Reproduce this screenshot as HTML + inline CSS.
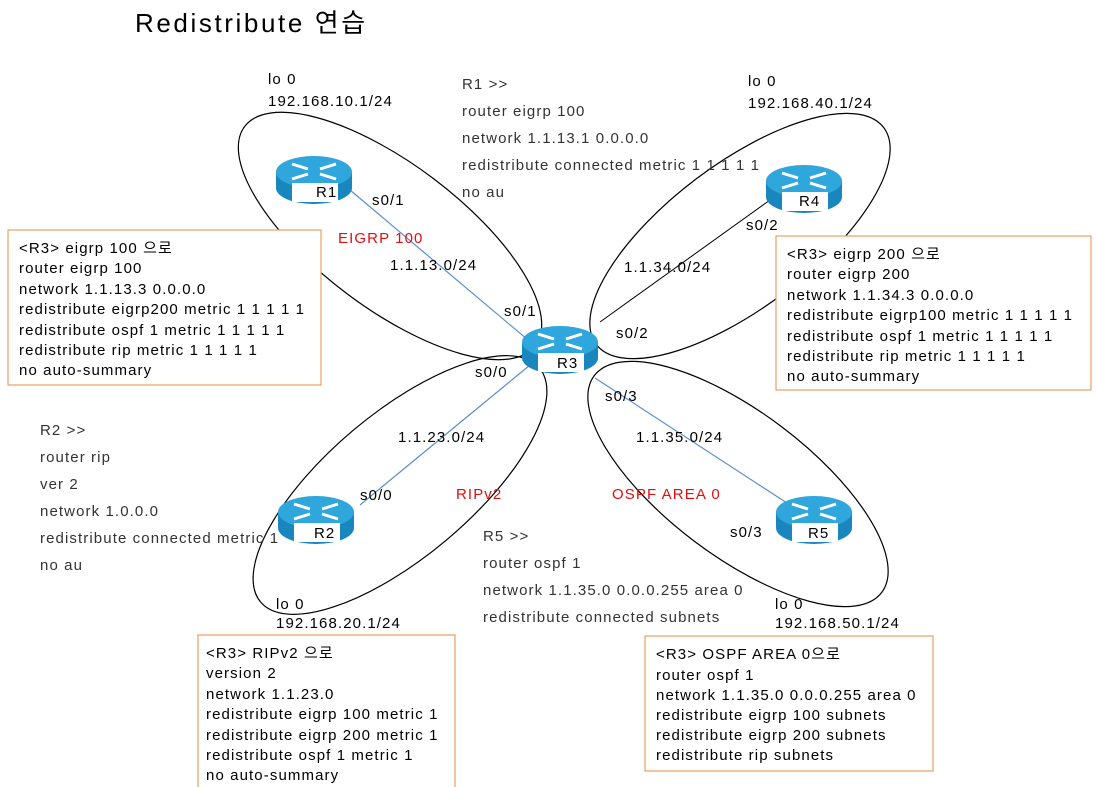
<!DOCTYPE html>
<html><head><meta charset="utf-8"><style>
html,body{margin:0;padding:0;background:#fff;}
svg{display:block;}
text{font-family:"Liberation Sans","Noto Sans CJK KR",sans-serif;font-size:15px;fill:#000;letter-spacing:1.1px;}
.g{fill:#333;}
.red{fill:#e01010;}
</style></head><body>
<svg width="1096" height="787" viewBox="0 0 1096 787" xmlns="http://www.w3.org/2000/svg">
<defs>
<g id="rt">
<path d="M0,17 L0,33 A38,16 0 0 0 76,33 L76,17 Z" fill="#1a86be"/>
<ellipse cx="38" cy="17" rx="38" ry="16" fill="#2fa6dc"/>
<g stroke="#fff" stroke-width="3" fill="#fff">
<line x1="16" y1="9" x2="32" y2="14"/><line x1="44" y1="19" x2="60" y2="24"/>
<line x1="60" y1="9" x2="44" y2="14"/><line x1="32" y1="19" x2="16" y2="24"/>
</g>
<rect x="16" y="28" width="46" height="19" fill="#fff"/>
</g>
</defs>
<text x="135" y="32" style="font-size:26px;letter-spacing:2.6px">Redistribute 연습</text>

<g fill="none" stroke="#000" stroke-width="1.2">
<ellipse cx="390" cy="236" rx="182" ry="72" transform="rotate(37 390 236)"/>
<ellipse cx="740" cy="236" rx="180" ry="72" transform="rotate(-37 740 236)"/>
<ellipse cx="400" cy="485" rx="182" ry="72" transform="rotate(-40 400 485)"/>
<ellipse cx="738" cy="484" rx="180" ry="72" transform="rotate(37 738 484)"/>
</g>
<g stroke="#5b8fcc" stroke-width="1.2">
<line x1="350" y1="190" x2="528" y2="340"/>
<line x1="360" y1="505" x2="530" y2="365"/>
<line x1="595" y1="378" x2="790" y2="505"/>
</g>
<line x1="600" y1="322" x2="770" y2="200" stroke="#000" stroke-width="1"/>

<use href="#rt" x="276" y="155"/><text x="316" y="197">R1</text>
<use href="#rt" x="766" y="164"/><text x="799" y="206">R4</text>
<use href="#rt" x="522" y="325"/><text x="557" y="368">R3</text>
<use href="#rt" x="278" y="495"/><text x="314" y="538">R2</text>
<use href="#rt" x="776" y="495"/><text x="808" y="538">R5</text>

<text x="372" y="205">s0/1</text>
<text x="504" y="316">s0/1</text>
<text x="616" y="338">s0/2</text>
<text x="746" y="230">s0/2</text>
<text x="475" y="377">s0/0</text>
<text x="360" y="500">s0/0</text>
<text x="605" y="401">s0/3</text>
<text x="730" y="537">s0/3</text>
<text x="390" y="270">1.1.13.0/24</text>
<text x="624" y="272">1.1.34.0/24</text>
<text x="398" y="442">1.1.23.0/24</text>
<text x="636" y="442">1.1.35.0/24</text>
<text x="338" y="243" class="red">EIGRP 100</text>
<text x="456" y="499" class="red">RIPv2</text>
<text x="612" y="499" class="red">OSPF AREA 0</text>

<text x="268" y="84">lo 0</text><text x="268" y="106">192.168.10.1/24</text>
<text x="748" y="86">lo 0</text><text x="748" y="108">192.168.40.1/24</text>
<text x="276" y="609">lo 0</text><text x="276" y="628">192.168.20.1/24</text>
<text x="775" y="609">lo 0</text><text x="775" y="628">192.168.50.1/24</text>

<g class="g">
<text x="462" y="89" class="g">R1 &gt;&gt;</text>
<text x="462" y="116" class="g">router eigrp 100</text>
<text x="462" y="143" class="g">network 1.1.13.1 0.0.0.0</text>
<text x="462" y="170" class="g">redistribute connected metric 1 1 1 1 1</text>
<text x="462" y="197" class="g">no au</text>
<text x="40" y="435" class="g">R2 &gt;&gt;</text>
<text x="40" y="462" class="g">router rip</text>
<text x="40" y="489" class="g">ver 2</text>
<text x="40" y="516" class="g">network 1.0.0.0</text>
<text x="40" y="543" class="g">redistribute connected metric 1</text>
<text x="40" y="570" class="g">no au</text>
<text x="483" y="541" class="g">R5 &gt;&gt;</text>
<text x="483" y="568" class="g">router ospf 1</text>
<text x="483" y="595" class="g">network 1.1.35.0 0.0.0.255 area 0</text>
<text x="483" y="622" class="g">redistribute connected subnets</text>
</g>

<g fill="#fff" stroke="#e8a060" stroke-width="1.2">
<rect x="8" y="230" width="313" height="155"/>
<rect x="776" y="236" width="315" height="154"/>
<rect x="198" y="635" width="257" height="160"/>
<rect x="645" y="636" width="288" height="135"/>
</g>
<text x="19" y="253">&lt;R3&gt; eigrp 100 으로</text>
<text x="19" y="273">router eigrp 100</text>
<text x="19" y="294">network 1.1.13.3 0.0.0.0</text>
<text x="19" y="314">redistribute eigrp200 metric 1 1 1 1 1</text>
<text x="19" y="335">redistribute ospf 1 metric 1 1 1 1 1</text>
<text x="19" y="355">redistribute rip metric 1 1 1 1 1</text>
<text x="19" y="375">no auto-summary</text>

<text x="787" y="259">&lt;R3&gt; eigrp 200 으로</text>
<text x="787" y="279">router eigrp 200</text>
<text x="787" y="300">network 1.1.34.3 0.0.0.0</text>
<text x="787" y="320">redistribute eigrp100 metric 1 1 1 1 1</text>
<text x="787" y="341">redistribute ospf 1 metric 1 1 1 1 1</text>
<text x="787" y="361">redistribute rip metric 1 1 1 1 1</text>
<text x="787" y="381">no auto-summary</text>

<text x="206" y="658">&lt;R3&gt; RIPv2 으로</text>
<text x="206" y="678">version 2</text>
<text x="206" y="699">network 1.1.23.0</text>
<text x="206" y="719">redistribute eigrp 100 metric 1</text>
<text x="206" y="740">redistribute eigrp 200 metric 1</text>
<text x="206" y="760">redistribute ospf 1 metric 1</text>
<text x="206" y="780">no auto-summary</text>

<text x="656" y="659">&lt;R3&gt; OSPF AREA 0으로</text>
<text x="656" y="680">router ospf 1</text>
<text x="656" y="700">network 1.1.35.0 0.0.0.255 area 0</text>
<text x="656" y="720">redistribute eigrp 100 subnets</text>
<text x="656" y="740">redistribute eigrp 200 subnets</text>
<text x="656" y="760">redistribute rip subnets</text>
</svg>
</body></html>
